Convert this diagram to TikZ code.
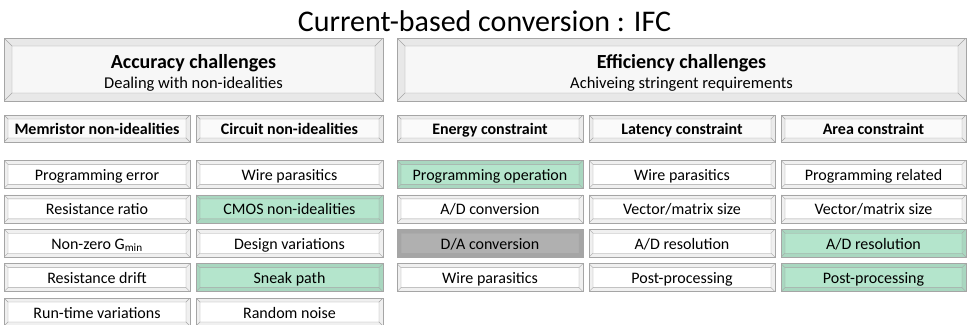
\documentclass[tikz,border=0pt]{standalone}
\usepackage{fontspec}
\setmainfont{Carlito}
\usetikzlibrary{positioning}

\definecolor{bevelline}{RGB}{165,165,165}
\definecolor{mint}{RGB}{180,229,204}
\definecolor{shadegray}{RGB}{176,176,176}

\begin{document}
\begin{tikzpicture}[x=1pt,y=-1pt,node distance=6pt,
      bevel/.style={draw=bevelline,fill=white,inner sep=0pt,
        minimum width=186pt,minimum height=28pt,
        text height=12pt,text depth=0pt,
        font=\fontsize{16}{19}\selectfont,
        path picture={
          \fill[black,opacity=0.06,even odd rule]
            (path picture bounding box.south west) rectangle (path picture bounding box.north east)
            ([shift={(#1,#1)}]path picture bounding box.south west) rectangle ([shift={(-#1,-#1)}]path picture bounding box.north east);
          \draw[bevelline]
            ([shift={(#1,#1)}]path picture bounding box.south west) rectangle ([shift={(-#1,-#1)}]path picture bounding box.north east)
            (path picture bounding box.south west) -- ++(#1,#1)
            (path picture bounding box.north east) -- ++(-#1,-#1)
            (path picture bounding box.north west) -- ++(#1,-#1)
            (path picture bounding box.south east) -- ++(-#1,#1);
        }},
      bevel/.default=4pt,
      header/.style={bevel=8pt,fill=black!3,minimum width=379pt,minimum height=63pt,
        align=center,text height=,text depth=,font=\fontsize{16.5}{19.5}\selectfont},
      category/.style={bevel,fill=black!2,minimum height=27pt,font=\fontsize{16}{19}\selectfont\bfseries},
      good/.style={fill=mint},
      dim/.style={fill=shadegray}]
  \useasboundingbox (0,0) rectangle (969,324);

  \node[font=\fontsize{30}{36}\selectfont,anchor=base] (title) at (484.5,31.5) {Current-based conversion : IFC};

  % two challenge groups
  \node[header] (acc) at (193.5,69.5)
    {\rule{0pt}{22.5pt}{\fontsize{20}{19.5}\selectfont\bfseries Accuracy challenges}\\Dealing with non-idealities\rule[-5pt]{0pt}{5pt}};
  \node[header,minimum width=569pt] (eff) at (681.5,69.5)
    {\rule{0pt}{22.5pt}{\fontsize{20}{19.5}\selectfont\bfseries Efficiency challenges}\\Achiveing stringent requirements\rule[-5pt]{0pt}{5pt}};

  % column heads
  \node[category] (mem) at (97,128.5) {Memristor non-idealities};
  \node[category,minimum width=187pt] (circ) at (289.5,128.5) {Circuit non-idealities};
  \node[category] (energy) at (490,128.5) {Energy constraint};
  \node[category] (latency) at (682,128.5) {Latency constraint};
  \node[category,minimum width=185pt] (area) at (873.5,128.5) {Area constraint};

  % memristor non-idealities
  \node[bevel] (mem1) [below=18pt of mem] {Programming error};
  \node[bevel] (mem2) [below=of mem1] {Resistance ratio};
  \node[bevel] (mem3) [below=of mem2] {Non-zero G\textsubscript{min}};
  \node[bevel] (mem4) [below=of mem3] {Resistance drift};
  \node[bevel] (mem5) [below=of mem4] {Run-time variations};

  % circuit non-idealities
  \node[bevel,minimum width=187pt] (circ1) [below=18pt of circ] {Wire parasitics};
  \node[bevel,minimum width=187pt,good] (circ2) [below=of circ1] {CMOS non-idealities};
  \node[bevel,minimum width=187pt] (circ3) [below=of circ2] {Design variations};
  \node[bevel,minimum width=187pt,good] (circ4) [below=of circ3] {Sneak path};
  \node[bevel,minimum width=187pt] (circ5) [below=of circ4] {Random noise};

  % energy
  \node[bevel,good] (energy1) [below=18pt of energy] {Programming operation};
  \node[bevel] (energy2) [below=of energy1] {A/D conversion};
  \node[bevel,dim] (energy3) [below=of energy2] {D/A conversion};
  \node[bevel] (energy4) [below=of energy3] {Wire parasitics};

  % latency
  \node[bevel] (latency1) [below=18pt of latency] {Wire parasitics};
  \node[bevel] (latency2) [below=of latency1] {Vector/matrix size};
  \node[bevel] (latency3) [below=of latency2] {A/D resolution};
  \node[bevel] (latency4) [below=of latency3] {Post-processing};

  % area
  \node[bevel,minimum width=185pt] (area1) [below=18pt of area] {Programming related};
  \node[bevel,minimum width=185pt] (area2) [below=of area1] {Vector/matrix size};
  \node[bevel,minimum width=185pt,good] (area3) [below=of area2] {A/D resolution};
  \node[bevel,minimum width=185pt,good] (area4) [below=of area3] {Post-processing};
\end{tikzpicture}
\end{document}
